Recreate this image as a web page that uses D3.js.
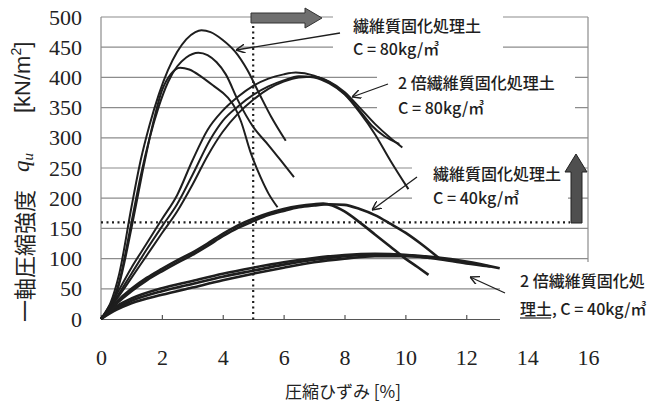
<!DOCTYPE html>
<html>
<head>
<meta charset="utf-8">
<script src="https://cdn.jsdelivr.net/npm/d3@7"></script>
<style>
  body { margin: 0; background: #fff; }
  svg { display: block; }
  .serif { font-family: "Liberation Serif", "DejaVu Serif", serif; }
  .jp { font-family: "Noto Sans CJK JP", "Noto Sans", sans-serif; }
  .sans { font-family: "Liberation Sans", Arial, sans-serif; }
</style>
</head>
<body>
<svg id="chart" width="654" height="403"></svg>
<script>
// ticks
const xTicks = [0, 2, 4, 6, 8, 10, 12, 14, 16];
const yTicks = [0, 50, 100, 150, 200, 250, 300, 350, 400, 450, 500];

// 繊維質固化処理土 C = 80kg/m3  [strain %, qu kN/m2]
const fiber80a = [[0,0],[0.3,25],[0.6,75],[1.0,185],[1.3,262],[1.6,322],[1.9,372],[2.2,412],[2.5,442],[2.8,463],[3.1,475],[3.3,478],[3.6,475],[4.0,462],[4.4,443],[4.8,413],[5.2,373],[5.6,334],[6.07,295]];
const fiber80b = [[0,0],[0.3,20],[0.6,62],[1.0,160],[1.3,236],[1.6,300],[1.9,352],[2.2,392],[2.5,418],[2.8,433],[3.2,441],[3.5,437],[3.8,425],[4.1,405],[4.5,362],[5.0,318],[5.5,288],[5.9,263],[6.34,235]];
const fiber80c = [[0,0],[0.3,18],[0.6,58],[1.0,150],[1.35,240],[1.7,322],[2.0,378],[2.3,406],[2.6,416],[2.9,413],[3.3,401],[3.7,386],[4.16,367],[4.4,350],[4.6,327],[4.9,278],[5.25,234],[5.5,208],[5.8,185]];

// 2倍繊維質固化処理土 C = 80kg/m3
const double80a = [[0,0],[0.5,40],[1.0,85],[1.5,125],[2.0,165],[2.5,205],[3.0,262],[3.5,313],[4.0,345],[4.5,368],[5.0,386],[5.5,398],[6.0,405],[6.4,408],[7.0,403],[7.5,392],[8.0,373],[8.5,345],[8.9,320],[9.3,303],[9.8,290]];
const double80b = [[0,0],[0.5,35],[1.0,75],[1.5,115],[2.0,153],[2.5,190],[3.0,238],[3.6,298],[4.0,328],[4.5,352],[5.0,371],[5.5,385],[6.0,395],[6.5,402],[7.0,400],[7.5,390],[8.0,372],[8.5,342],[9.0,306],[9.5,263],[10.1,215]];
const double80c = [[0,0],[0.5,32],[1.0,68],[1.5,105],[2.0,142],[2.5,178],[3.0,222],[3.5,270],[4.0,310],[4.5,340],[5.0,363],[5.5,381],[6.0,393],[6.5,400],[7.0,401],[7.5,393],[8.0,376],[8.5,350],[9.0,323],[9.5,300],[9.9,284]];

// 繊維質固化処理土 C = 40kg/m3
const fiber40a = [[0,0],[0.5,28],[1.0,50],[1.5,68],[2.0,83],[2.5,97],[3.0,110],[3.5,125],[4.0,141],[4.5,155],[5.0,166],[5.5,175],[6.0,182],[6.5,187],[7.0,190],[7.3,191],[7.6,188],[8.0,178],[8.5,160],[9.0,140],[9.5,120],[10.0,100],[10.4,86],[10.76,73]];
const fiber40b = [[0,0],[0.5,25],[1.0,46],[1.5,64],[2.0,79],[2.5,93],[3.0,106],[3.5,121],[4.0,137],[4.5,151],[5.0,162],[5.5,172],[6.0,179],[6.5,185],[7.0,188],[7.5,190],[8.0,189],[8.5,182],[9.0,172],[9.5,158],[10.0,143],[10.5,125],[11.1,101]];

// 2倍繊維質固化処理土 C = 40kg/m3
const double40a = [[0,0],[0.5,18],[1.0,30],[2.0,46],[3.0,58],[4.0,70],[5.0,80],[6.0,90],[7.0,98],[8.0,104],[9.0,107],[10.0,106],[11.0,102],[12.0,95],[13.1,84]];
const double40b = [[0,0],[0.5,15],[1.0,26],[2.0,40],[3.0,52],[4.0,64],[5.0,75],[6.0,85],[7.0,94],[8.0,100],[9.0,104],[10.0,104],[11.0,100],[12.0,92],[12.8,87]];
const double40c = [[0,0],[0.5,21],[1.0,34],[2.0,51],[3.0,63],[4.0,75],[5.0,85],[6.0,94],[7.0,101],[8.0,106],[9.0,108],[10.0,106],[10.8,101]];

const curves = [fiber80a, fiber80b, fiber80c, double80a, double80b, double80c,
                fiber40a, fiber40b, double40a, double40b, double40c];

// reference lines
const strainLimit = 5;
const quLimit = 160;

var svg = d3.select('#chart');
var x = d3.scaleLinear().domain([0, 16]).range([101, 588]);
var y = d3.scaleLinear().domain([0, 500]).range([319, 17]);

var gridColor = '#8c8c8c';
var ink = '#1e1e1e';

// gridlines
svg.append('g')
  .selectAll('line')
  .data(yTicks.filter(d => d > 0))
  .join('line')
  .attr('x1', x(0)).attr('x2', x(16))
  .attr('y1', d => y(d)).attr('y2', d => y(d))
  .attr('stroke', gridColor).attr('stroke-width', 1.2);

// frame: left and right side
svg.append('line').attr('x1', x(0)).attr('x2', x(0)).attr('y1', y(500)).attr('y2', y(0))
  .attr('stroke', gridColor).attr('stroke-width', 1.2);
svg.append('line').attr('x1', x(16)).attr('x2', x(16)).attr('y1', y(500)).attr('y2', y(0))
  .attr('stroke', gridColor).attr('stroke-width', 1.2);

// x axis line with small inward ticks
var xAxisLine = svg.append('g')
  .attr('transform', `translate(0,${y(0)})`)
  .call(d3.axisBottom(x).tickValues(xTicks).tickSize(-4).tickFormat(''));
xAxisLine.selectAll('path,line').attr('stroke', '#555').attr('stroke-width', 1.2);

// white boxes behind the labels (they hide the grid, as in the figure)
var boxes = [
  [333, 6, 170, 52],
  [377, 64, 198, 55],
  [412, 152, 156, 62],
  [500, 262, 160, 141]
];
svg.append('g').selectAll('rect').data(boxes).join('rect')
  .attr('x', d => d[0]).attr('y', d => d[1])
  .attr('width', d => d[2]).attr('height', d => d[3])
  .attr('fill', '#fff');

// curves
var line = d3.line()
  .x(d => x(d[0]))
  .y(d => y(d[1]))
  .curve(d3.curveMonotoneX);

svg.append('g')
  .selectAll('path')
  .data(curves)
  .join('path')
  .attr('d', line)
  .attr('fill', 'none')
  .attr('stroke', ink)
  .attr('stroke-width', (d, i) => i >= 6 ? 2.6 : 2)
  .attr('stroke-linejoin', 'round');

// dotted reference lines
svg.append('line')
  .attr('x1', x(strainLimit)).attr('x2', x(strainLimit))
  .attr('y1', 26).attr('y2', y(0) + 4)
  .attr('stroke', ink).attr('stroke-width', 2.2)
  .attr('stroke-dasharray', '2,3.5');
svg.append('line')
  .attr('x1', x(0)).attr('x2', 570)
  .attr('y1', y(quLimit)).attr('y2', y(quLimit))
  .attr('stroke', ink).attr('stroke-width', 2.2)
  .attr('stroke-dasharray', '2,3.5');

// block arrows
svg.append('path')
  .attr('d', 'M251,13 L305,13 L305,8 L322,18 L305,28 L305,23 L251,23 Z')
  .attr('fill', '#6f6f6f').attr('stroke', '#333').attr('stroke-width', 1);
svg.append('path')
  .attr('d', 'M571,223 L571,172 L565,172 L576,154 L587,172 L582,172 L582,223 Z')
  .attr('fill', '#4f4f4f').attr('stroke', '#222').attr('stroke-width', 1);

// pointer arrows
svg.append('defs').append('marker')
  .attr('id', 'vhead')
  .attr('viewBox', '0 0 10 10')
  .attr('refX', 10).attr('refY', 5)
  .attr('markerWidth', 9).attr('markerHeight', 9)
  .attr('markerUnits', 'userSpaceOnUse')
  .attr('orient', 'auto')
  .append('path')
  .attr('d', 'M0,0 L10,5 L0,10')
  .attr('fill', 'none').attr('stroke', ink).attr('stroke-width', 1.6);

var pointers = [
  [340, 33, 236, 50],
  [388, 84, 352, 97],
  [417, 177, 372, 210],
  [505, 293, 470, 277]
];
svg.append('g').selectAll('line').data(pointers).join('line')
  .attr('x1', d => d[0]).attr('y1', d => d[1])
  .attr('x2', d => d[2]).attr('y2', d => d[3])
  .attr('stroke', ink).attr('stroke-width', 1.3)
  .attr('marker-end', 'url(#vhead)');

// labels
var labels = [
  [353, 25, '繊維質固化処理土'],
  [353, 48, 'C = 80kg/㎥'],
  [398, 82, '2 倍繊維質固化処理土'],
  [398, 107, 'C = 80kg/㎥'],
  [433, 173, '繊維質固化処理土'],
  [433, 197, 'C = 40kg/㎥'],
  [520, 280, '2 倍繊維質固化処'],
  [520, 308, '理土, C = 40kg/㎥']
];
svg.append('g').selectAll('text').data(labels).join('text')
  .attr('class', 'jp')
  .attr('x', d => d[0]).attr('y', d => d[1])
  .attr('dominant-baseline', 'central')
  .style('font-size', '16px').style('font-weight', 500)
  .attr('fill', ink)
  .text(d => d[2]);
svg.append('line').attr('x1', 520).attr('x2', 551).attr('y1', 318).attr('y2', 318)
  .attr('stroke', ink).attr('stroke-width', 1.2);

// tick labels
var xLab = svg.append('g')
  .attr('transform', `translate(0,${y(0)})`)
  .call(d3.axisBottom(x).tickValues(xTicks).tickSize(0).tickPadding(30));
xLab.select('.domain').remove();
xLab.selectAll('text').attr('class', 'serif').style('font-size', '22px').attr('fill', '#222');

var yLab = svg.append('g')
  .attr('transform', `translate(${x(0)},0)`)
  .call(d3.axisLeft(y).tickValues(yTicks).tickSize(0).tickPadding(19));
yLab.select('.domain').remove();
yLab.selectAll('text').attr('class', 'serif').style('font-size', '22px').attr('fill', '#222');

// axis titles
svg.append('text')
  .attr('class', 'jp')
  .attr('x', 343).attr('y', 390)
  .attr('text-anchor', 'middle').attr('dominant-baseline', 'central')
  .style('font-size', '17px').attr('fill', '#222')
  .text('圧縮ひずみ [%]');

var yTitle = svg.append('g').attr('transform', 'translate(23,0) rotate(-90)');
yTitle.append('text')
  .attr('class', 'jp')
  .attr('x', -322).attr('y', 0)
  .attr('dominant-baseline', 'central')
  .style('font-size', '22px').attr('fill', '#222')
  .text('一軸圧縮強度');
var q = yTitle.append('text')
  .attr('class', 'serif')
  .attr('x', -172).attr('y', 6)
  .style('font-size', '23px').style('font-style', 'italic').attr('fill', '#222');
q.append('tspan').text('q');
q.append('tspan').style('font-size', '15px').attr('dy', 4).text('u');
var unit = yTitle.append('text')
  .attr('class', 'sans')
  .attr('x', -113).attr('y', 7)
  .style('font-size', '22px').attr('fill', '#222');
unit.append('tspan').text('[kN/m');
unit.append('tspan').style('font-size', '14px').attr('dy', -9).text('2');
unit.append('tspan').attr('dy', 9).text(']');
</script>
</body>
</html>
